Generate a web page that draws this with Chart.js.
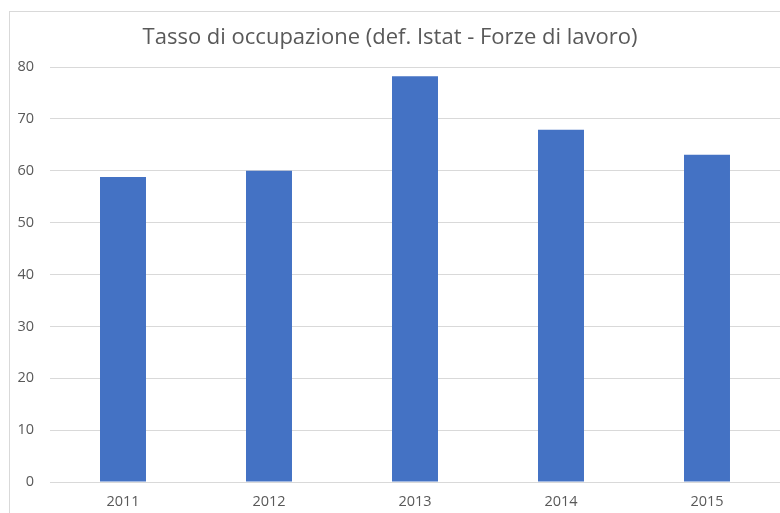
<!DOCTYPE html>
<html>
<head>
<meta charset="utf-8">
<script src="https://cdn.jsdelivr.net/npm/chart.js@4/dist/chart.umd.min.js"></script>
<style>
  html, body { margin: 0; padding: 0; background: #fff; overflow: hidden; }
  #frame {
    position: absolute; left: 9px; top: 11px;
    width: 800px; height: 560px;
    border: 1px solid #d9d9d9; box-sizing: border-box;
  }
  #wrap { position: absolute; left: 0; top: 0; width: 780px; height: 513px; }
</style>
</head>
<body>
<div id="frame"></div>
<div id="wrap"><canvas id="chart" width="780" height="513"></canvas></div>
<script>
// dati
const anni = ['2011', '2012', '2013', '2014', '2015'];
const tasso = [58.8, 60.0, 78.2, 67.9, 63.1];
const titolo = 'Tasso di occupazione (def. Istat - Forze di lavoro)';

const grigioTesto = '#595959';
const grigioGriglia = '#d9d9d9';

const ctx = document.getElementById('chart').getContext('2d');
new Chart(ctx, {
    type: 'bar',
    data: {
        labels: anni,
        datasets: [{
            data: tasso,
            backgroundColor: '#4472c4',
            categoryPercentage: 1,
            barPercentage: 0.315
        }]
    },
    options: {
        responsive: false,
        animation: false,
        layout: { padding: { left: 0, right: 0, top: 0, bottom: 0 } },
        plugins: {
            legend: { display: false },
            tooltip: { enabled: false },
            title: {
                display: true,
                text: titolo,
                color: grigioTesto,
                font: { family: 'Open Sans', size: 22, weight: 'normal' },
                padding: { top: 25, bottom: 15.6 }
            }
        },
        scales: {
            x: {
                grid: { display: false, drawTicks: false },
                border: { display: false },
                ticks: { color: grigioTesto, font: { family: 'Open Sans', size: 14.5 }, padding: 11 },
                afterFit: s => { s.height = 31; }
            },
            y: {
                min: 0, max: 80,
                grid: { color: grigioGriglia, lineWidth: 1, drawTicks: false },
                border: { display: false },
                ticks: { stepSize: 10, color: grigioTesto, font: { family: 'Open Sans', size: 14.5 }, padding: 16 },
                afterFit: s => { s.width = 50; }
            }
        }
    }
});
</script>
</body>
</html>
